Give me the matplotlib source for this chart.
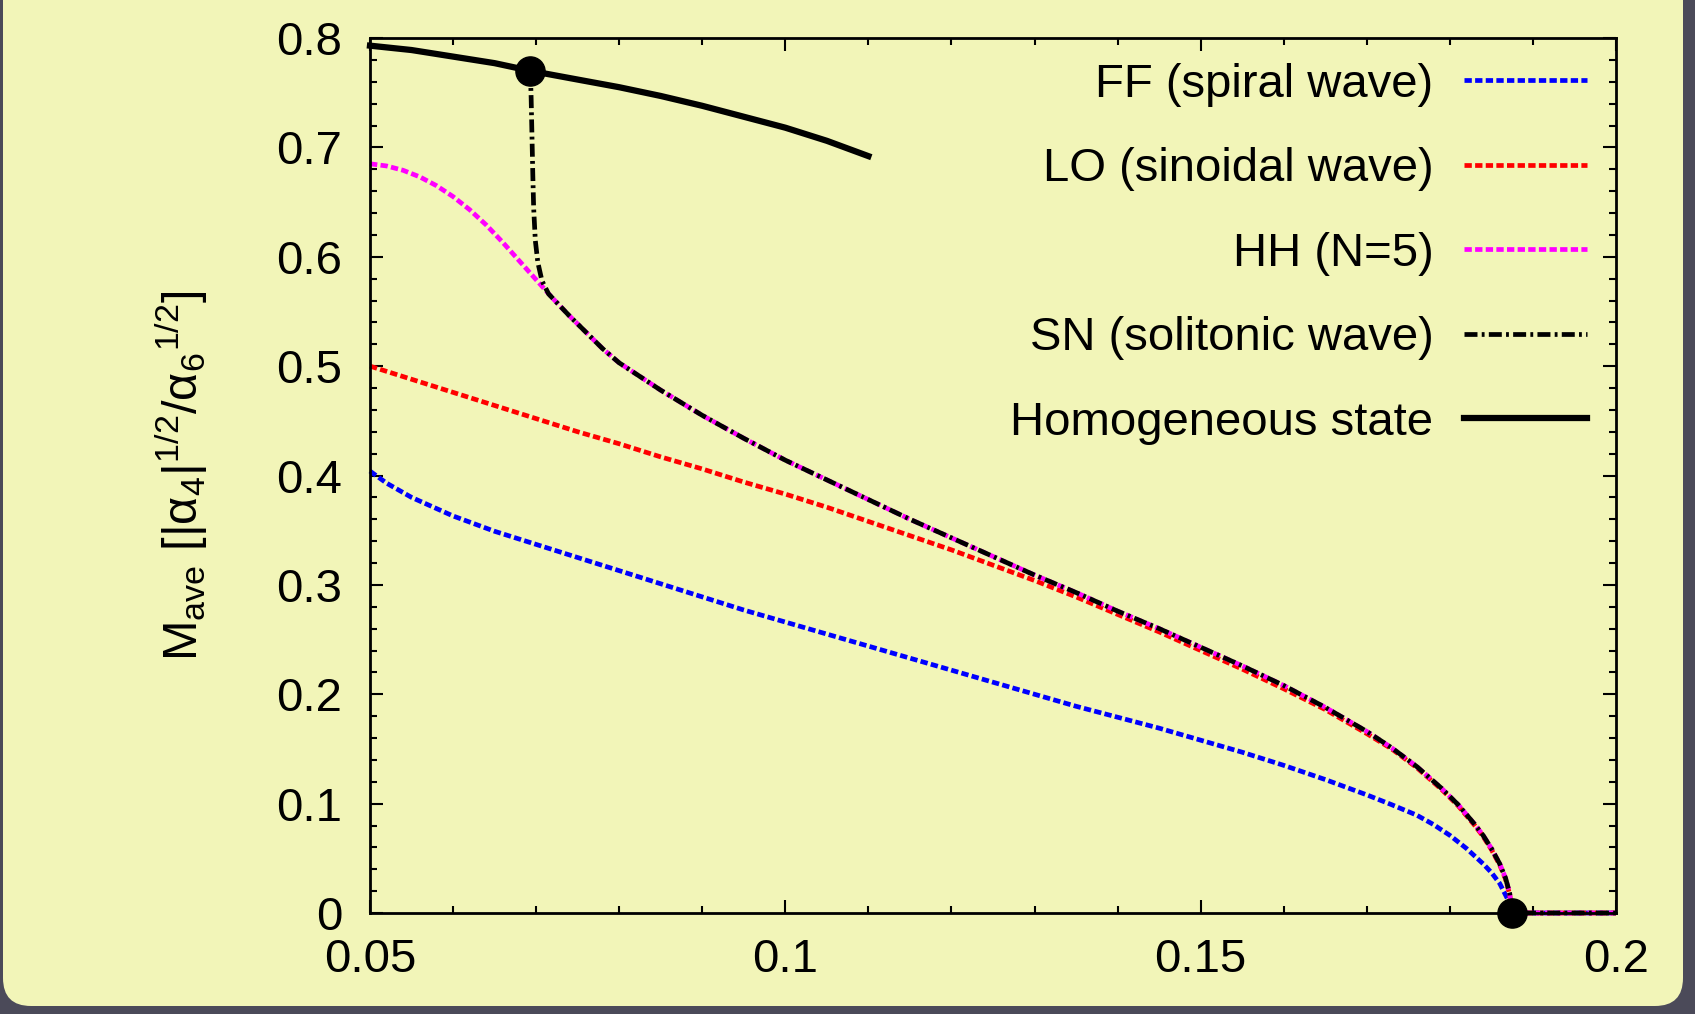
import matplotlib
matplotlib.use('Agg')
import matplotlib.pyplot as plt
from matplotlib.patches import FancyBboxPatch
from matplotlib.ticker import MultipleLocator, FuncFormatter
from matplotlib.transforms import IdentityTransform

plt.rcParams['font.family'] = ['Liberation Sans', 'DejaVu Sans']
plt.rcParams['mathtext.fontset'] = 'custom'
plt.rcParams['mathtext.rm'] = 'Liberation Sans'
plt.rcParams['mathtext.it'] = 'Liberation Sans:italic'
plt.rcParams['mathtext.default'] = 'regular'

# FF (spiral wave)
ff_x = [0.05, 0.052, 0.055, 0.06, 0.065, 0.07, 0.075, 0.08, 0.085, 0.09,
        0.095, 0.10, 0.105, 0.11, 0.115, 0.12, 0.125, 0.13, 0.135, 0.14,
        0.145, 0.15, 0.155, 0.16, 0.165, 0.17, 0.173, 0.176, 0.178, 0.180,
        0.182, 0.184, 0.185, 0.186, 0.187, 0.1875, 0.2]
ff_y = [0.404, 0.393, 0.380, 0.363, 0.349, 0.337, 0.325, 0.313, 0.301, 0.289,
        0.277, 0.266, 0.255, 0.244, 0.233, 0.222, 0.211, 0.200, 0.189, 0.179,
        0.169, 0.158, 0.147, 0.135, 0.122, 0.108, 0.099, 0.0895, 0.081, 0.071,
        0.059, 0.045, 0.037, 0.027, 0.012, 0.0, 0.0]

# LO (sinoidal wave)
lo_x = [0.05, 0.055, 0.06, 0.065, 0.07, 0.075, 0.08, 0.085, 0.09, 0.095,
        0.10, 0.105, 0.11, 0.115, 0.12, 0.125, 0.13, 0.135, 0.14, 0.145,
        0.15, 0.155, 0.16, 0.165, 0.17, 0.173, 0.176, 0.179, 0.181, 0.183,
        0.184, 0.185, 0.186, 0.1867, 0.1872, 0.1875, 0.2]
lo_y = [0.500, 0.488, 0.476, 0.464, 0.452, 0.440, 0.429, 0.417, 0.406, 0.394,
        0.383, 0.371, 0.358, 0.345, 0.332, 0.318, 0.304, 0.289, 0.273, 0.257,
        0.240, 0.223, 0.205, 0.186, 0.164, 0.150, 0.133, 0.113, 0.098, 0.080,
        0.070, 0.058, 0.044, 0.031, 0.017, 0.0, 0.0]

# HH (N=5)
hh_x = [0.05, 0.052, 0.054, 0.056, 0.058, 0.060, 0.062, 0.064, 0.066, 0.068,
        0.070, 0.072, 0.074, 0.076, 0.078, 0.080, 0.085, 0.09, 0.095, 0.10,
        0.105, 0.11, 0.115, 0.12, 0.125, 0.13, 0.135, 0.14, 0.145, 0.15,
        0.155, 0.16, 0.165, 0.17, 0.173, 0.176, 0.179, 0.181, 0.183, 0.184,
        0.185, 0.186, 0.1867, 0.1872, 0.1875, 0.2]
hh_y = [0.685, 0.683, 0.679, 0.673, 0.665, 0.655, 0.643, 0.629, 0.613, 0.596,
        0.579, 0.562, 0.546, 0.531, 0.516, 0.503, 0.478, 0.455, 0.434, 0.414,
        0.396, 0.378, 0.360, 0.343, 0.326, 0.309, 0.293, 0.276, 0.260, 0.243,
        0.226, 0.208, 0.188, 0.166, 0.151, 0.134, 0.114, 0.099, 0.081, 0.071,
        0.059, 0.045, 0.032, 0.018, 0.0, 0.0]

# SN (solitonic wave)
sn_x = [0.0693, 0.0694, 0.0695, 0.0696, 0.0697, 0.0699, 0.0702, 0.0707,
        0.0715, 0.072, 0.074, 0.076, 0.078, 0.080, 0.085, 0.09, 0.095, 0.10,
        0.105, 0.11, 0.115, 0.12, 0.125, 0.13, 0.135, 0.14, 0.145, 0.15,
        0.155, 0.16, 0.165, 0.17, 0.173, 0.176, 0.179, 0.181, 0.183, 0.184,
        0.185, 0.186, 0.1867, 0.1872, 0.1875, 0.2]
sn_y = [0.770, 0.745, 0.710, 0.675, 0.645, 0.615, 0.595, 0.578, 0.566, 0.562,
        0.546, 0.531, 0.516, 0.503, 0.478, 0.455, 0.434, 0.414, 0.396, 0.378,
        0.360, 0.343, 0.326, 0.309, 0.293, 0.276, 0.260, 0.243, 0.226, 0.208,
        0.188, 0.166, 0.151, 0.134, 0.114, 0.099, 0.081, 0.071, 0.059, 0.045,
        0.032, 0.018, 0.0, 0.0]

# Homogeneous state
hs_x = [0.05, 0.055, 0.06, 0.065, 0.0693, 0.075, 0.08, 0.085, 0.09, 0.095,
        0.10, 0.105, 0.11]
hs_y = [0.793, 0.789, 0.783, 0.777, 0.770, 0.762, 0.755, 0.747, 0.738, 0.728,
        0.718, 0.706, 0.692]

# transition points
pt_x = [0.0693, 0.1875]
pt_y = [0.770, 0.0]

fig = plt.figure(figsize=(16.95, 10.14), dpi=100)
fig.patch.set_facecolor('#4b4a59')
bg = FancyBboxPatch((3, 8), 1680, 1040,
                    boxstyle='round,pad=0,rounding_size=28',
                    transform=IdentityTransform(),
                    facecolor='#f2f5b8', edgecolor='none', zorder=-5)
fig.add_artist(bg)

ax = fig.add_axes([370 / 1695, 1 - 913 / 1014, 1246 / 1695, 875 / 1014])
ax.set_facecolor('none')

lw = 3.4
dash = (1.55, 0.7)
ax.plot(ff_x, ff_y, color='#0000ff', lw=lw, dashes=dash,
        label='FF (spiral wave)', clip_on=False)
ax.plot(lo_x, lo_y, color='#ff0000', lw=lw, dashes=dash,
        label='LO (sinoidal wave)', clip_on=False)
ax.plot(hh_x, hh_y, color='#ff00ff', lw=lw, dashes=dash,
        label='HH (N=5)', clip_on=False)
ax.plot(sn_x, sn_y, color='black', lw=lw, dashes=(2.75, 0.9, 0.6, 0.9),
        label='SN (solitonic wave)', clip_on=False)
ax.plot(hs_x, hs_y, color='black', lw=4.5, label='Homogeneous state',
        clip_on=False)
ax.plot(pt_x, pt_y, 'o', color='black', ms=21, clip_on=False, zorder=5)

ax.set_xlim(0.05, 0.2)
ax.set_ylim(0, 0.8)
ax.xaxis.set_major_locator(MultipleLocator(0.05))
ax.xaxis.set_minor_locator(MultipleLocator(0.01))
ax.yaxis.set_major_locator(MultipleLocator(0.1))
ax.yaxis.set_minor_locator(MultipleLocator(0.02))
fmt = FuncFormatter(lambda v, p: '%g' % round(v, 3))
ax.xaxis.set_major_formatter(fmt)
ax.yaxis.set_major_formatter(fmt)

for s in ax.spines.values():
    s.set_linewidth(2.0)
ax.tick_params(which='both', direction='in', top=True, right=True,
               width=1.5, labelsize=34)
ax.tick_params(which='major', length=9.5)
ax.tick_params(which='minor', length=5)
ax.tick_params(axis='x', pad=18)
ax.tick_params(axis='y', pad=20)

ax.set_ylabel(r'M$_{ave}$ [|α$_4$|$^{1/2}$/α$_6$$^{1/2}$]', fontsize=35,
              labelpad=48)

ax.legend(loc='upper right', bbox_to_anchor=(0.9767, 0.972),
          frameon=False, markerfirst=False, fontsize=34,
          handlelength=2.6, handletextpad=0.65, labelspacing=0.86,
          borderpad=0, borderaxespad=0)

fig.savefig('out.png', dpi=100, facecolor=fig.get_facecolor())
